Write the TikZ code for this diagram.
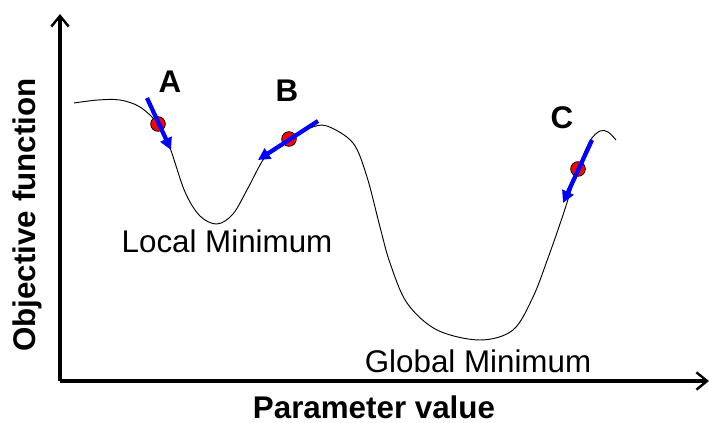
\documentclass[tikz,border=0pt]{standalone}
\usepackage{fontspec}
\setmainfont{Liberation Sans}
\usetikzlibrary{arrows.meta}
\begin{document}
\begin{tikzpicture}[x=0.75pt,y=-0.75pt,
  axis/.style={line width=2.8pt,-{Straight Barb[length=8pt,width=13pt,line width=1.8pt]}},
  curve/.style={line width=0.7pt},
  ball/.style={circle,draw=black,fill=red,line width=0.6pt,minimum size=11pt,inner sep=0pt},
  grad/.style={draw=blue,line width=3.2pt,-{Triangle[length=9pt,width=9pt]}},
  lbl/.style={font=\fontsize{23.5}{26}\selectfont,anchor=base,inner sep=0pt},
  blbl/.style={font=\fontsize{23.5}{26}\selectfont\bfseries,anchor=base,inner sep=0pt}]
\useasboundingbox (0,0) rectangle (709,423);
% axes
\coordinate (o) at (60,381);
\coordinate (ytip) at (60,14);
\coordinate (xtip) at (709,381);
\draw[axis] (o) -- (ytip);
\draw[axis] (o) -- (xtip);
% curve
\draw[curve] plot[smooth,tension=0.55] coordinates {
 (74,103) (98,100) (120,100) (140,107) (158,124) (170,148) (185,192)
 (200,216) (217,224) (233,214) (248,188) (263,160) (276,147) (289,139)
 (310,128) (327,126) (353,143) (367,177) (380,227) (390,263) (407,303)
 (437,330) (480,340) (513,330) (533,297) (548,258) (562,218)
 (578,169) (590,141) (600,131) (608,132) (616,140)};
% balls
\node[ball] (pa) at (158,124) {};
\node[ball] (pb) at (289,139) {};
\node[ball] (pc) at (578,169) {};
% gradient arrows
\coordinate (as) at (147,98);  \coordinate (ae) at (171,150);
\coordinate (bs) at (318,121); \coordinate (be) at (258,160);
\coordinate (cs) at (592,140); \coordinate (ce) at (563,203);
\draw[grad] (as) -- (ae);
\draw[grad] (bs) -- (be);
\draw[grad] (cs) -- (ce);
% labels
\node[blbl] (la) at (170,93) {A};
\node[blbl] (lb) at (287,102) {B};
\node[blbl] (lc) at (562,129) {C};
\node[lbl] (loc) at (227,253) {Local Minimum};
\node[lbl] (glob) at (478,372) {Global Minimum};
\node[blbl] (xl) at (374,418) {Parameter value};
\node[blbl,rotate=90] (yl) at (35,215) {Objective function};
\end{tikzpicture}
\end{document}
